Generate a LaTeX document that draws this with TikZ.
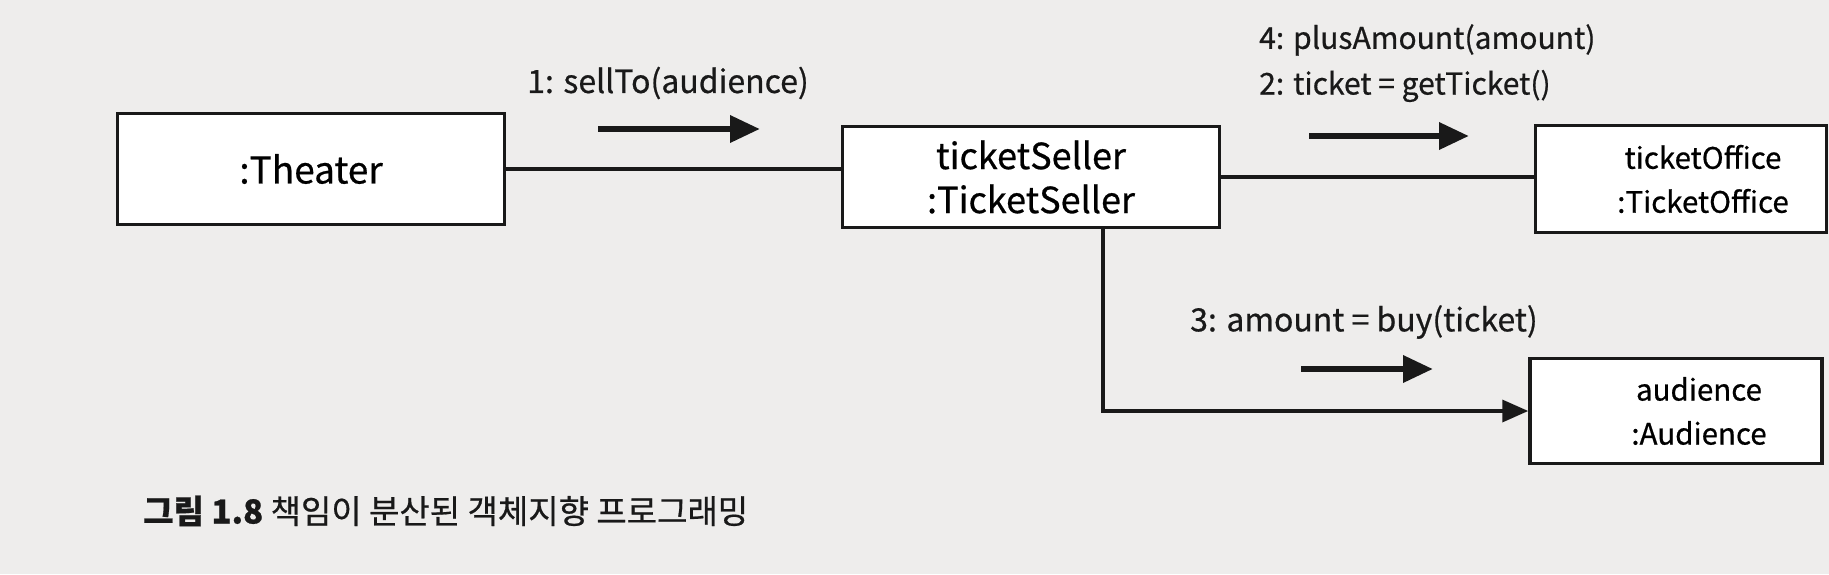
\documentclass[tikz,border=0pt]{standalone}
\usepackage{fontspec}
\setmainfont{Noto Sans CJK KR}[FakeBold=0.6]
\usetikzlibrary{arrows.meta}
\definecolor{paper}{RGB}{238,237,236}
\definecolor{ink}{RGB}{25,25,25}
\tikzset{
  obj/.style={draw=ink, line width=3.5pt, fill=white, align=center, inner sep=0pt},
  link/.style={draw=ink, line width=3.5pt},
  msg/.style={draw=ink, line width=6.5pt, -{Triangle[length=30pt,width=26pt]}},
  lbl/.style={text=ink, inner sep=0pt},
}
\begin{document}
\begin{tikzpicture}[x=1pt,y=-1pt]
\useasboundingbox[fill=paper] (0,0) rectangle (1829,574);
% objects
\node[obj, minimum width=387pt, minimum height=111pt, font=\fontsize{37}{44}\selectfont] (theater) at (311,169) {:Theater};
\node[obj, minimum width=377pt, minimum height=101pt, font=\fontsize{36}{44}\selectfont] (seller) at (1031,177) {ticketSeller\\:TicketSeller};
\node[obj, minimum width=291pt, minimum height=107pt, font=\fontsize{29.5}{44}\selectfont] (office) at (1681,179) {\hspace*{44pt}ticketOffice\\\hspace*{44pt}:TicketOffice};
\node[obj, minimum width=292pt, minimum height=105pt, font=\fontsize{29.5}{44}\selectfont] (audience) at (1676,411) {\hspace*{46pt}audience\\\hspace*{46pt}:Audience};
% links
\draw[link] (theater) -- (theater -| seller.west);
\draw[link] (seller) -- (seller -| office.west);
\coordinate (sbot) at ([xshift=72pt]seller.south);
\draw[link, -{Triangle[length=26pt,width=22pt]}] (sbot) |- (audience.west);
% messages
\node[lbl, font=\fontsize{32}{36}\selectfont] (m1) at (668,83) {1: sellTo(audience)};
\coordinate (a1s) at (598,129);
\coordinate (a1e) at (760,129);
\draw[msg] (a1s) -- (a1e);
\node[lbl, anchor=west, font=\fontsize{30}{36}\selectfont] (m4) at (1259,40) {4: plusAmount(amount)};
\node[lbl, anchor=west, font=\fontsize{30}{36}\selectfont] (m2) at (1259,86) {2: ticket = getTicket()};
\coordinate (a2s) at (1309,136);
\coordinate (a2e) at (1469,136);
\draw[msg] (a2s) -- (a2e);
\node[lbl, anchor=west, font=\fontsize{32}{36}\selectfont] (m3) at (1190,322) {3: amount = buy(ticket)};
\coordinate (a3s) at (1301,369);
\coordinate (a3e) at (1433,369);
\draw[msg] (a3s) -- (a3e);
% caption
\node[text=ink, anchor=west, inner sep=0pt, font=\fontsize{33}{38}\selectfont] (cap) at (143,511) {\textbf{그림 1.8} 책임이 분산된 객체지향 프로그래밍};
\end{tikzpicture}
\end{document}
